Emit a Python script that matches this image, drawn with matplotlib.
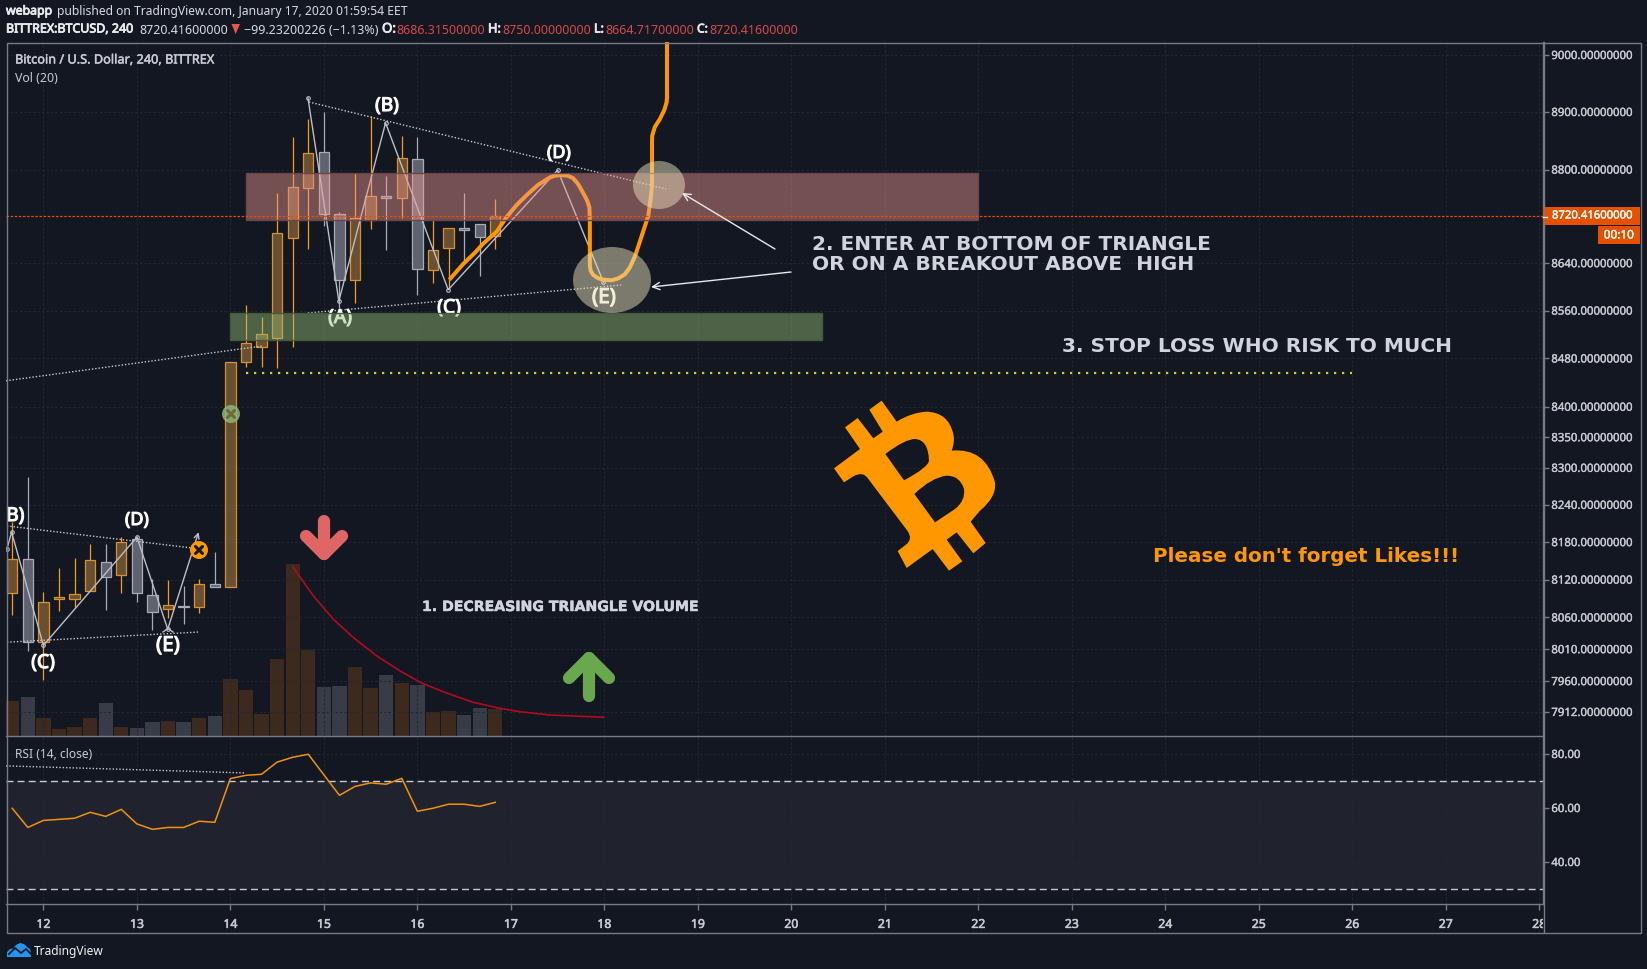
import matplotlib
matplotlib.use("Agg")
import matplotlib.pyplot as plt
from matplotlib.patches import Rectangle, Ellipse, Polygon, PathPatch
from matplotlib.path import Path
from matplotlib.transforms import Affine2D, Bbox
import matplotlib.patheffects as pe

W, H = 1647, 970
BG = "#131722"
FONT = "Noto Sans"

# ---------- data ----------
opens  = [8099,8153,8021,8090,8089,8102,8148,8127,8185,8095,8073,8078,8076,8113,8108,8474,8499,8514,8683,8769,8830,8724,8611,8714,8754,8751,8818,8629,8666,8700,8707,8686.3]
highs  = [8212,8285,8100,8139,8155,8177,8177,8188,8190,8121,8119,8110,8121,8164,8474,8569,8549,8760,8856,8888,8900,8727,8794,8893,8789,8858,8856,8713,8700,8760,8707,8750]
lows   = [8064,8007,7962,8070,8076,8102,8072,8099,8084,8041,8059,8050,8067,8108,8108,8466,8466,8464,8499,8664,8703,8564,8573,8698,8662,8717,8586,8606,8596,8642,8618,8664.7]
closes = [8153,8021,8084,8092,8097,8151,8124,8180,8099,8068,8080,8076,8113,8108,8474,8506,8521,8691,8770,8829,8724,8611,8717,8754,8751,8820,8630,8662,8700,8696,8684,8720.4]
volume = [35,39,18,7,9,18,33,9,8,14,15,14,18,20,57,46,22,77,172,86,49,50,69,48,61,53,51,24,25,21,28,27]
rsi    = [59.9,52.8,55.4,55.8,56.2,58.4,56.9,59.5,54.1,52.1,52.8,52.8,55.1,54.7,70.9,72.1,72.5,77.0,78.8,79.9,72.3,64.7,68.0,69.3,68.8,71.0,58.8,59.9,61.4,61.4,60.6,62.1]
first_bar_day = 11 + 2/3
bar_days = [first_bar_day + i/6 for i in range(len(opens))]

price_ticks = [9000,8900,8800,8640,8560,8480,8400,8350,8300,8240,8180,8120,8060,8010,7960,7912]
rsi_ticks = [80,60,40]
day_ticks = list(range(12,29))
last_price = 8720.416

wave_days = [14.83,15.16,15.66,16.33,17.50,17.99]
wave_prices = [8924.5,8576,8881,8595,8799,8608]
upper_days, upper_prices = [14.84,18.66], [8917.5,8766.6]
lower_days, lower_prices = [14.83,18.18], [8556,8603]
old_days, old_prices = [11.60,14.34], [8443,8500.7]
old_wave_days = [11.61,11.66,12.0,13.0,13.33,13.66]
old_wave_prices = [8169,8196,8016,8188,8041.6,8196]
old_upper_days, old_upper_prices = [11.61,13.59], [8206,8170.6]
old_lower_days, old_lower_prices = [11.61,13.66], [8021,8037]
stop_days, stop_prices = [14.17,26.0], [8456,8456]
sell_zone = (14.17,22.0,8713.5,8794)
buy_zone = (14.0,20.33,8510.7,8556)
path_days = [16.356,16.49,16.62,16.70,16.85,16.95,17.06,17.17,17.29,17.42,17.47,17.53,17.61,17.667,17.72,17.77,17.817,17.84,17.845,17.845,17.845,17.853,17.881,17.935,17.99,18.078,18.15,18.22,18.274,18.33,18.40,18.47,18.495,18.51,18.51,18.512,18.54,18.595,18.64,18.666,18.67,18.67,18.67]
path_prices = [8614.4,8638.6,8658.4,8672.5,8694,8717.5,8738.8,8756.2,8773.5,8786.7,8789.4,8790.6,8789.4,8785,8775,8760.8,8746.4,8735,8712,8698,8636,8627.3,8620,8614.4,8612,8611,8614.4,8621.2,8633,8652.6,8686.5,8720.6,8749.3,8772.7,8848,8859,8873.8,8888,8903,8917,8925,8958,9030]
decay_days = [14.673,14.887,15.10,15.314,15.565,15.814,16.046,16.313,16.598,16.883,17.097,17.418,17.995]
decay_prices = [8139.7,8094.3,8057.4,8028.5,7999.5,7976,7957,7941.4,7927,7917.7,7912.4,7907.3,7903.8]
rsi_dot_days, rsi_dot_vals = [11.60,14.15], [75.6,73.0]

UP_EDGE, UP_WICK, UP_FILL = "#d9912f", "#f79a1f", "#6a5030"
DN_EDGE, DN_WICK, DN_FILL = "#a9acb5", "#a9acb5", "#5f6370"
VOL_UP, VOL_DN = "#3c2a1e", "#383c47"
GRID = "#232734"
AXIS = "#787b86"
LABEL = "#c8cad0"
ORANGE = "#ff9800"
PRICE_RED = "#e65100"
WAVE = "#bdbfc6"
DOT = "#c9cbd1"

fig = plt.figure(figsize=(W/100, H/100), dpi=100, facecolor=BG)
pix = Affine2D().scale(1, -1).translate(0, H)

def pane(x0, y0, x1, y1, **kw):
    return fig.add_axes([x0/W, 1-y1/H, (x1-x0)/W, (y1-y0)/H], **kw)

def embolden(t, amount=0.5):
    t.set_path_effects([pe.withStroke(linewidth=amount, foreground=t.get_color())])

XLIM = (11.60, 28.04)
ax_vol = pane(6, 43, 1543, 737, facecolor=BG)
ax = pane(6, 43, 1543, 737, facecolor="none")
ax_rsi = pane(6, 737, 1543, 905, facecolor=BG)
ov = pane(0, 0, W, H, facecolor="none")
ov.set_xlim(0, W); ov.set_ylim(H, 0); ov.axis("off")
ax_vol.set_zorder(1); ax.set_zorder(2); ax_rsi.set_zorder(2); ov.set_zorder(5)

# ---------- volume pane ----------
ax_vol.set_xlim(*XLIM); ax_vol.set_ylim(0, 694)
ax_vol.bar(bar_days, volume, width=0.153,
           color=[VOL_UP if c >= o else VOL_DN for o, c in zip(opens, closes)], zorder=2)
ax_vol.set_xticks(day_ticks); ax_vol.set_yticks([])
ax_vol.tick_params(length=0, labelbottom=False)
ax_vol.grid(False)
for s in ax_vol.spines.values(): s.set_visible(False)

# ---------- price pane ----------
ax.set_yscale("log")
ax.set_xlim(*XLIM); ax.set_ylim(7874.8, 9023)
ax.yaxis.tick_right()
ax.set_yticks(price_ticks, [f"{p:.8f}" for p in price_ticks])
ax.minorticks_off()
ax.set_xticks(day_ticks)
ax.tick_params(axis="x", length=0, labelbottom=False)
ax.tick_params(axis="y", length=4, width=1, color=AXIS, labelcolor=LABEL, pad=2, labelsize=8.2)
for t in ax.get_yticklabels():
    t.set_fontfamily(FONT); embolden(t, 0.25)
ax.grid(True, color=GRID, lw=0.8, ls=(0, (2, 2)), zorder=0.5)
ax.set_axisbelow(True)
for k, s in ax.spines.items():
    s.set_color(AXIS); s.set_linewidth(1)
ax.spines["left"].set_visible(False); ax.spines["top"].set_visible(False); ax.spines["bottom"].set_visible(False)

for d, o, h, l, c in zip(bar_days, opens, highs, lows, closes):
    up = c >= o
    ax.vlines(d, l, h, color=UP_WICK if up else DN_WICK, lw=0.9, zorder=2)
    lo, hi = min(o, c), max(o, c)
    ax.bar(d, hi-lo, bottom=lo, width=0.11, color=UP_FILL if up else DN_FILL,
           edgecolor=UP_EDGE if up else DN_EDGE, linewidth=0.9, zorder=2.1)

ax.plot(old_days, old_prices, color=DOT, lw=1, ls=(0, (1, 1.4)), zorder=3)
ax.plot(old_upper_days, old_upper_prices, color=DOT, lw=1, ls=(0, (1, 1.4)), zorder=3)
ax.plot(old_lower_days, old_lower_prices, color=DOT, lw=1, ls=(0, (1, 1.4)), zorder=3)
ax.plot(upper_days, upper_prices, color=DOT, lw=1, ls=(0, (1, 1.4)), zorder=3)
ax.plot(lower_days, lower_prices, color=DOT, lw=1, ls=(0, (1, 1.4)), zorder=3)
ax.plot(wave_days, wave_prices, color=WAVE, lw=1, marker="o", ms=2.6, mfc="none", mew=0.8, zorder=3)
ax.plot(old_wave_days[:-1], old_wave_prices[:-1], color=WAVE, lw=1, marker="o", ms=2.6, mfc="none", mew=0.8, zorder=3)
ax.annotate("", xy=(old_wave_days[-1], old_wave_prices[-1]),
            xytext=(old_wave_days[-2], old_wave_prices[-2]),
            arrowprops=dict(arrowstyle="->", color=WAVE, lw=1, shrinkA=0, shrinkB=0, mutation_scale=9), zorder=3)
ax.plot(stop_days, stop_prices, color="#d7d81e", lw=1.6, ls=(0, (1, 2.6)), zorder=3)
ax.plot(decay_days, decay_prices, color="#b30a1e", lw=1.2, zorder=3)
ax.plot(path_days, path_prices, color=ORANGE, lw=2.9, zorder=4, solid_joinstyle="round")

for (x0, x1, y0, y1), fc, ec in [(sell_zone, (237/255, 150/255, 145/255, .45), "#6a464c"),
                                 (buy_zone, (150/255, 190/255, 116/255, .45), "#445a3d")]:
    ax.add_patch(Rectangle((x0, y0), x1-x0, y1-y0, facecolor=fc, edgecolor=ec, lw=1, zorder=5))

ax.axhline(last_price, color=PRICE_RED, lw=0.9, ls=(0, (2, 1.3)), zorder=5.5)

for cx, cy, rx, ry in [(612, 281, 39, 33), (659, 186, 26, 24)]:
    ax.add_patch(Ellipse((cx, cy), 2*rx, 2*ry, transform=pix, facecolor=(229/255, 221/255, 184/255, .5),
                         edgecolor="none", zorder=6))

renderer = fig.canvas.get_renderer()
def fit(a, x, y, s, width, size=10, ha="left", va="center", heavy=0, **kw):
    kw.setdefault("family", FONT)
    kw.setdefault("color", LABEL)
    t = a.text(x, y, s, ha=ha, va=va, fontsize=size, **kw)
    w = t.get_window_extent(renderer).width
    t.set_fontsize(size*width/w)
    if heavy:
        embolden(t, heavy)
    return t

# wave labels live below the zones, like in the picture
for s, x, y in [("(A)",340,319),("(B)",387,107),("(C)",449,309),("(D)",559,154),("(E)",604,299),
                ("(B)",12.5,517),("(C)",43,664),("(D)",137,521),("(E)",168,647)]:
    t = fit(ax, x, y, s, 24, size=13, ha="center", color="white", transform=pix, heavy=0.8, zorder=4.5)
    t.set_clip_on(True)

# ---------- RSI pane ----------
ax_rsi.set_xlim(*XLIM); ax_rsi.set_ylim(24.44, 86.67)
ax_rsi.axhspan(30, 70, color="#20222d", zorder=0.2, lw=0)
ax_rsi.axhline(70, color="#c8cad0", lw=1, ls=(0, (5, 3)), zorder=1)
ax_rsi.axhline(30, color="#c8cad0", lw=1, ls=(0, (5, 3)), zorder=1)
ax_rsi.plot(bar_days, rsi, color="#f0920f", lw=1.1, zorder=3)
ax_rsi.plot(rsi_dot_days, rsi_dot_vals, color=DOT, lw=1, ls=(0, (1, 1.4)), zorder=3)
ax_rsi.yaxis.tick_right()
ax_rsi.set_yticks(rsi_ticks, [f"{v:.2f}" for v in rsi_ticks])
ax_rsi.set_xticks(day_ticks, [str(d) for d in day_ticks])
ax_rsi.tick_params(axis="y", length=4, width=1, color=AXIS, labelcolor=LABEL, pad=2, labelsize=8.2)
ax_rsi.tick_params(axis="x", length=4, width=1, color=AXIS, labelcolor=LABEL, pad=6, labelsize=8.8)
for t in ax_rsi.get_yticklabels():
    t.set_fontfamily(FONT); embolden(t, 0.25)
clip = Bbox([[0, 0], [1543, H]])
for t in ax_rsi.get_xticklabels():
    t.set_fontfamily(FONT); embolden(t, 0.4)
    t.set_clip_box(clip); t.set_clip_on(True)
ax_rsi.grid(True, color=GRID, lw=0.8, ls=(0, (2, 2)), zorder=0.5)
ax_rsi.set_axisbelow(True)
for k, s in ax_rsi.spines.items():
    s.set_color(AXIS); s.set_linewidth(1)
ax_rsi.spines["left"].set_visible(False)

# ---------- overlay: frame, labels, drawings ----------
ov.add_patch(Rectangle((6.5, 43.5), 1634, 890, fill=False, edgecolor=AXIS, lw=1))
ov.plot([1543.5, 1543.5], [43, 933], color=AXIS, lw=1)

# header
fit(ov, 6, 12, "webapp", 46, color="#e8e9ec", heavy=0.6)
fit(ov, 57, 12, "published on TradingView.com, January 17, 2020 01:59:54 EET", 351, color="#d8dae0")
fit(ov, 6, 30, "BITTREX:BTCUSD, 240", 127, color="#e8e9ec", heavy=0.6)
fit(ov, 139, 30, "8720.41600000", 88, color="#d8dae0")
ov.add_patch(Polygon([(231.5, 25), (240, 25), (235.7, 35)], facecolor="#ef5350", edgecolor="none"))
fit(ov, 244, 30, "\u221299.23200226 (\u22121.13%)", 134, color="#d8dae0")
RED = "#d9494a"
for lab, x0, w0, val, x1, w1 in [("O:",382,14,"8686.31500000",396.5,87.5),
                                 ("H:",488,13,"8750.00000000",502,88),
                                 ("L:",594,10,"8664.71700000",605,88),
                                 ("C:",697,11,"8720.41600000",709,88)]:
    fit(ov, x0, 30, lab, w0, color="#e8e9ec", heavy=0.6)
    fit(ov, x1, 30, val, w1, color=RED)

fit(ov, 15, 61, "Bitcoin / U.S. Dollar, 240, BITTREX", 199, color=LABEL, heavy=0.35)
fit(ov, 15, 78, "Vol (20)", 43, color=LABEL)
fit(ov, 15, 755, "RSI (14, close)", 77, color=LABEL)

# last price tag
ov.add_patch(Rectangle((1543, 208), 97, 18, facecolor=PRICE_RED, edgecolor="none"))
ov.plot([1543, 1547], [217.5, 217.5], color="white", lw=1)
fit(ov, 1552, 217, "8720.41600000", 80, color="white", heavy=0.25)
ov.add_patch(Rectangle((1598, 227), 42, 18, facecolor=PRICE_RED, edgecolor="none"))
fit(ov, 1619, 236, "00:10", 30, ha="center", color="white", heavy=0.25)

# annotations
ANN = "#d1d4dc"
fit(ov, 812, 244, "2. ENTER AT BOTTOM OF TRIANGLE", 398, size=13, family="DejaVu Sans", fontweight="bold", color=ANN)
fit(ov, 812, 265, "OR ON A BREAKOUT ABOVE  HIGH", 380, size=13, family="DejaVu Sans", fontweight="bold", color=ANN)
fit(ov, 1061.5, 347, "3. STOP LOSS WHO RISK TO MUCH", 388, size=13, family="DejaVu Sans", fontweight="bold", color=ANN)
fit(ov, 1153, 557, "Please don't forget Likes!!!", 303, size=13, family="DejaVu Sans", fontweight="bold", color=ORANGE)
fit(ov, 422, 608, "1. DECREASING TRIANGLE VOLUME", 277, size=10, family="DejaVu Sans", fontweight="bold", color=ANN, heavy=0.35)

# hand-drawn arrows
for pts, col in [([(324,522),(324,555)], "#e06666"), ([(306,537),(324,555),(342,537)], "#e06666"),
                 ([(589,659),(589,697)], "#6aa84f"), ([(569,679),(589,659),(609,679)], "#6aa84f")]:
    ov.plot(*zip(*pts), color=col, lw=8.8, solid_capstyle="round", solid_joinstyle="round")
for tip, tail in [((682,194),(775,250)), ((651,288),(791,273))]:
    ov.annotate("", xy=tip, xytext=tail,
                arrowprops=dict(arrowstyle="->", color="#e8e9ec", lw=1, shrinkA=0, shrinkB=0, mutation_scale=13))
ov.plot([163,168,173],[633,629.5,633], color=WAVE, lw=1)

# cancelled-order badges
for (cx, cy), fc, xc in [((199,551), ORANGE, BG), ((231,415), (0.55,0.72,0.45,0.85), "#6d6a3e")]:
    ov.add_patch(Ellipse((cx, cy), 18, 18, facecolor=fc, edgecolor="none"))
    ov.plot([cx-3.5,cx+3.5],[cy-3.5,cy+3.5], color=xc, lw=2.2, solid_capstyle="round")
    ov.plot([cx-3.5,cx+3.5],[cy+3.5,cy-3.5], color=xc, lw=2.2, solid_capstyle="round")

# bitcoin logo (drawn shape): M = move, L = line, Q = quadratic curve, Z = close
logo_ops = [
    ("M",(245,65)),("L",(290,128)),("Q",(335,100),(380,98)),("Q",(445,100),(460,165)),("Q",(465,190),(455,215)),
    ("Q",(555,205),(585,310)),("Q",(590,355),(540,395)),("L",(512,428)),("L",(557,492)),("L",(520,523)),("L",(470,460)),
    ("L",(440,482)),("L",(487,547)),("L",(447,575)),("L",(398,510)),("L",(320,567)),("L",(293,516)),("L",(318,497)),
    ("Q",(340,480),(322,455)),("L",(205,300)),("Q",(190,275),(160,292)),("L",(132,310)),("L",(102,268)),("L",(180,210)),
    ("L",(135,145)),("L",(173,117)),("L",(220,178)),("L",(248,158)),("L",(208,92)),("Z",),
    ("M",(312,304)),("Q",(385,265),(387,245)),("Q",(385,182),(345,180)),("Q",(315,180),(256,225)),("Z",),
    ("M",(405,430)),("L",(465,390)),("Q",(497,365),(492,330)),("Q",(480,290),(440,290)),("Q",(395,295),(343,345)),("Z",),
]
verts, codes = [], []
to_px = lambda p: (800+p[0]/3, 380+p[1]/3)
for op in logo_ops:
    if op[0] == "M":
        verts.append(to_px(op[1])); codes.append(Path.MOVETO)
    elif op[0] == "L":
        verts.append(to_px(op[1])); codes.append(Path.LINETO)
    elif op[0] == "Q":
        verts += [to_px(op[1]), to_px(op[2])]; codes += [Path.CURVE3, Path.CURVE3]
    else:
        verts.append((0, 0)); codes.append(Path.CLOSEPOLY)
ov.add_patch(PathPatch(Path(verts, codes), facecolor=ORANGE, edgecolor="none"))

# TradingView mark
ov.add_patch(Polygon([(7,958),(7,953),(10,950),(13,949.5),(16,946),(20,944),(24,945),(27,948),(30,950),(31,954),(31,958)],
                     facecolor="#2196f3", edgecolor="none"))
ov.plot([9,15,21,26,31],[955,949,954,950,955], color=BG, lw=1.3)
fit(ov, 34, 952, "TradingView", 70, color="#f0f1f3")

fig.savefig("out.png", dpi=100, facecolor=BG)
